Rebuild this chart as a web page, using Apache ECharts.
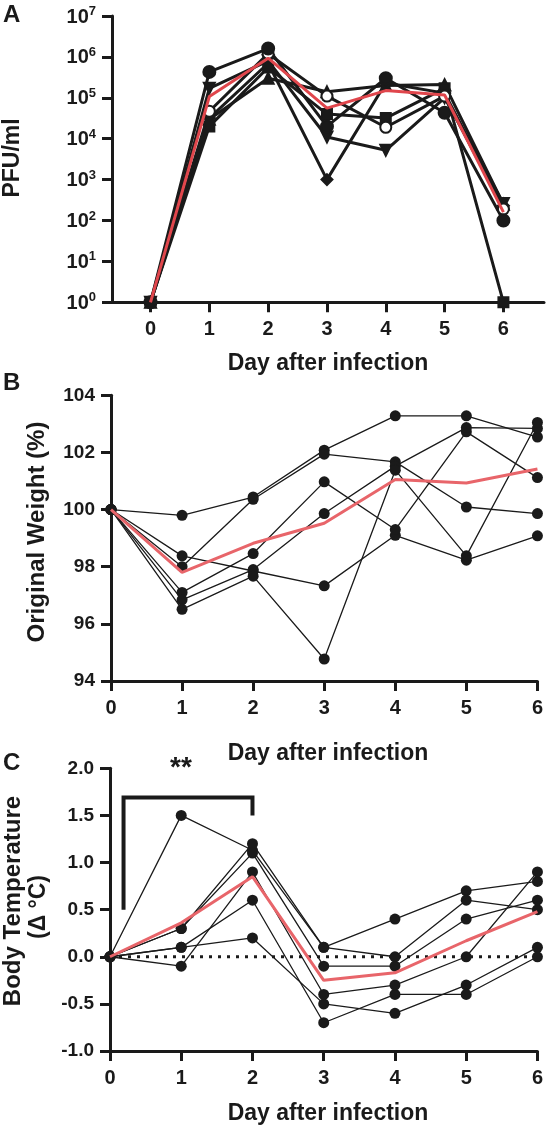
<!DOCTYPE html>
<html><head><meta charset="utf-8">
<script src="https://cdn.jsdelivr.net/npm/echarts@6/dist/echarts.min.js"></script>
<style>html,body{margin:0;padding:0;background:#fff}#c{width:546px;height:1126px}</style>
</head><body><div id="c"></div>
<script>
// ---------- DATA ----------
const days = [0, 1, 2, 3, 4, 5, 6];
const dayTicks = [0, 1, 2, 3, 4, 5, 6];

// Panel A: virus titre (PFU/ml), one array per animal (marker shape)
const pfuFilledCircle = [1, 4.3e5, 1.6e6, 2.0e4, 3.0e5, 4.3e4, 100];
const pfuOpenCircle   = [1, 4.7e4, 1.2e6, 1.1e5, 1.9e4, 1.1e5, 190];
const pfuSquare       = [1, 2.0e4, 5.5e5, 4.0e4, 3.2e4, 1.7e5, 1];
const pfuTriangleUp   = [1, 3.0e4, 3.0e5, 1.4e5, 2.0e5, 2.1e5, 250];
const pfuTriangleDown = [1, 1.7e5, 8.0e5, 1.1e4, 5.2e3, 1.0e5, 260];
const pfuDiamond      = [1, 3.2e4, 7.0e5, 1.0e3, 2.3e5, 1.3e5, 230];
const pfuMean         = [1, 1.07e5, 9.3e5, 5.6e4, 1.5e5, 1.17e5, 160];
const pfuTicks = [1, 10, 100, 1e3, 1e4, 1e5, 1e6, 1e7];

// Panel B: original weight (%)
const weight1 = [100, 99.8, 100.44, 102.08, 103.28, 103.28, 102.54];
const weight2 = [100, 98.0, 100.36, 101.94, 101.67, 100.09, 99.86];
const weight3 = [100, 98.38, 97.85, 97.33, 99.1, 98.23, 99.08];
const weight4 = [100, 97.1, 98.46, 100.97, 99.3, 102.72, 101.12];
const weight5 = [100, 96.84, 97.9, 99.86, 101.52, 102.87, 102.84];
const weight6 = [100, 96.51, 97.67, 94.77, 101.38, 98.38, 103.05];
const weightMean = [100, 97.8, 98.82, 99.52, 101.05, 100.93, 101.42];
const weightTicks = [94, 96, 98, 100, 102, 104];

// Panel C: body temperature change (°C)
const temp1 = [0, 1.5, 1.13, 0.1, 0.4, 0.7, 0.8];
const temp2 = [0, 0.3, 1.2, 0.1, 0.0, 0.6, 0.5];
const temp3 = [0, 0.3, 1.1, -0.1, -0.1, 0.4, 0.6];
const temp4 = [0, 0.1, 0.2, -0.5, -0.6, -0.3, 0.1];
const temp5 = [0, 0.1, 0.6, -0.7, -0.4, -0.4, 0.0];
const temp6 = [0, -0.1, 0.9, -0.4, -0.3, 0.0, 0.9];
const tempMean = [0, 0.36, 0.85, -0.25, -0.17, 0.17, 0.48];
const tempTicks = [-1.0, -0.5, 0.0, 0.5, 1.0, 1.5, 2.0];
// significance bracket (day, value) and baseline
const bracket = [[0.19, 0.5], [0.19, 1.69], [2, 1.69], [2, 1.5]];
const baseline = [[0, 0], [6, 0]];
const sigText = '**';

// ---------- CHART ----------
const INK = '#1a1a1a';
const RED_A = '#e0464c';
const RED = '#e8656a';
const FONT = '"Liberation Sans", Arial, sans-serif';
const pairs = arr => arr.map((v, i) => [days[i], v]);

function axisCommon(isY) {
  return {
    axisLine: { show: true, onZero: false, lineStyle: { color: INK, width: 3 } },
    axisTick: { show: true, length: 10, lineStyle: { color: INK, width: 3 } },
    axisLabel: { color: INK, fontWeight: 'bold', fontSize: isY ? 19 : 20, fontFamily: FONT, margin: isY ? 16 : 17 },
    splitLine: { show: false }
  };
}

const chart = echarts.init(document.getElementById('c'), null, { renderer: 'canvas' });

const xA = Object.assign(axisCommon(false), { type: 'value', gridIndex: 0, min: -0.655, max: 6.69 });
xA.axisTick.customValues = dayTicks; xA.axisLabel.customValues = dayTicks;
const xB = Object.assign(axisCommon(false), { type: 'value', gridIndex: 1, min: 0, max: 6, interval: 1 });
xB.axisTick.customValues = dayTicks; xB.axisLabel.customValues = dayTicks;
const xC = Object.assign(axisCommon(false), { type: 'value', gridIndex: 2, min: 0, max: 6, interval: 1 });
xC.axisTick.customValues = dayTicks; xC.axisLabel.customValues = dayTicks;

const yA = Object.assign(axisCommon(true), { type: 'log', logBase: 10, gridIndex: 0, min: 1, max: 1e7 });
yA.axisTick.customValues = pfuTicks;
yA.axisLabel.customValues = pfuTicks;
yA.axisLabel.formatter = v => '{b|10}{s|' + Math.round(Math.log10(v)) + '}';
yA.axisLabel.rich = {
  b: { fontSize: 20, fontWeight: 'bold', fontFamily: FONT, color: INK, lineHeight: 22, verticalAlign: 'bottom' },
  s: { fontSize: 13, fontWeight: 'bold', fontFamily: FONT, color: INK, lineHeight: 13, verticalAlign: 'top' }
};
const yB = Object.assign(axisCommon(true), { type: 'value', gridIndex: 1, min: 94, max: 104, interval: 2 });
const yC = Object.assign(axisCommon(true), { type: 'value', gridIndex: 2, min: -1, max: 2, interval: 0.5 });
yC.axisLabel.formatter = v => v.toFixed(1);

function lineA(data, symbol, extra) {
  return Object.assign({
    type: 'line', xAxisIndex: 0, yAxisIndex: 0, data: pairs(data),
    symbol: symbol, symbolSize: 11,
    lineStyle: { color: INK, width: 3 },
    itemStyle: { color: INK, borderColor: INK, borderWidth: 2 },
    z: 3, animation: false
  }, extra || {});
}
function lineBC(idx, data) {
  return {
    type: 'line', xAxisIndex: idx, yAxisIndex: idx, data: pairs(data),
    symbol: 'circle', symbolSize: 11,
    lineStyle: { color: INK, width: 1.3 },
    itemStyle: { color: INK },
    z: 3, animation: false
  };
}
function meanLine(idx, data, color, w) {
  return {
    type: 'line', xAxisIndex: idx, yAxisIndex: idx, data: pairs(data),
    symbol: 'none', lineStyle: { color: color, width: w }, z: 5, animation: false
  };
}

const option = {
  backgroundColor: '#fff',
  animation: false,
  grid: [
    { left: 112, right: 2, top: 16, height: 286.3 },
    { left: 111, right: 4, top: 395.3, height: 285.7 },
    { left: 110, right: 5, top: 768.3, height: 282.7 }
  ],
  xAxis: [xA, xB, xC],
  yAxis: [yA, yB, yC],
  series: [
    lineA(pfuTriangleUp, 'triangle'),
    lineA(pfuDiamond, 'diamond'),
    lineA(pfuTriangleDown, 'path://M0,0 L10,0 L5,9 Z'),
    lineA(pfuSquare, 'rect', { symbolSize: 10 }),
    lineA(pfuOpenCircle, 'emptyCircle', { itemStyle: { color: INK, borderColor: INK, borderWidth: 2.5 } }),
    lineA(pfuFilledCircle, 'circle', { symbolSize: 12 }),
    meanLine(0, pfuMean, RED_A, 3),

    lineBC(1, weight1), lineBC(1, weight2), lineBC(1, weight3),
    lineBC(1, weight4), lineBC(1, weight5), lineBC(1, weight6),
    meanLine(1, weightMean, RED, 3),

    {
      type: 'line', xAxisIndex: 2, yAxisIndex: 2, data: baseline, symbol: 'none',
      lineStyle: { color: INK, width: 3, type: [3, 6], cap: 'butt' }, z: 2, animation: false
    },
    lineBC(2, temp1), lineBC(2, temp2), lineBC(2, temp3),
    lineBC(2, temp4), lineBC(2, temp5), lineBC(2, temp6),
    meanLine(2, tempMean, RED, 3),
    {
      type: 'line', xAxisIndex: 2, yAxisIndex: 2, data: bracket, symbol: 'none',
      lineStyle: { color: INK, width: 4, join: 'miter', cap: 'butt' }, z: 4, animation: false
    }
  ],
  graphic: [
    { type: 'text', left: 3, top: 3, style: { text: 'A', font: 'bold 24px ' + FONT, fill: INK } },
    { type: 'text', left: 3, top: 371, style: { text: 'B', font: 'bold 24px ' + FONT, fill: INK } },
    { type: 'text', left: 3, top: 751, style: { text: 'C', font: 'bold 24px ' + FONT, fill: INK } },
    { type: 'text', x: 13, y: 158, rotation: Math.PI / 2,
      style: { text: 'PFU/ml', font: 'bold 23px ' + FONT, fill: INK, textAlign: 'center', textVerticalAlign: 'middle' } },
    { type: 'text', x: 37, y: 532, rotation: Math.PI / 2,
      style: { text: 'Original Weight (%)', font: 'bold 24px ' + FONT, fill: INK, textAlign: 'center', textVerticalAlign: 'middle' } },
    { type: 'text', x: 13, y: 901, rotation: Math.PI / 2,
      style: { text: 'Body Temperature', font: 'bold 24px ' + FONT, fill: INK, textAlign: 'center', textVerticalAlign: 'middle' } },
    { type: 'text', x: 39, y: 907, rotation: Math.PI / 2,
      style: { text: '(Δ °C)', font: 'bold 23px ' + FONT, fill: INK, textAlign: 'center', textVerticalAlign: 'middle' } },
    { type: 'text', x: 328, y: 364,
      style: { text: 'Day after infection', font: 'bold 23px ' + FONT, fill: INK, textAlign: 'center', textVerticalAlign: 'middle' } },
    { type: 'text', x: 328, y: 754,
      style: { text: 'Day after infection', font: 'bold 23px ' + FONT, fill: INK, textAlign: 'center', textVerticalAlign: 'middle' } },
    { type: 'text', x: 328, y: 1114,
      style: { text: 'Day after infection', font: 'bold 23px ' + FONT, fill: INK, textAlign: 'center', textVerticalAlign: 'middle' } },
    { type: 'text', x: 181, y: 768,
      style: { text: sigText, font: 'bold 28px ' + FONT, fill: INK, textAlign: 'center', textVerticalAlign: 'middle' } }
  ]
};
chart.setOption(option);
</script>
</body></html>
